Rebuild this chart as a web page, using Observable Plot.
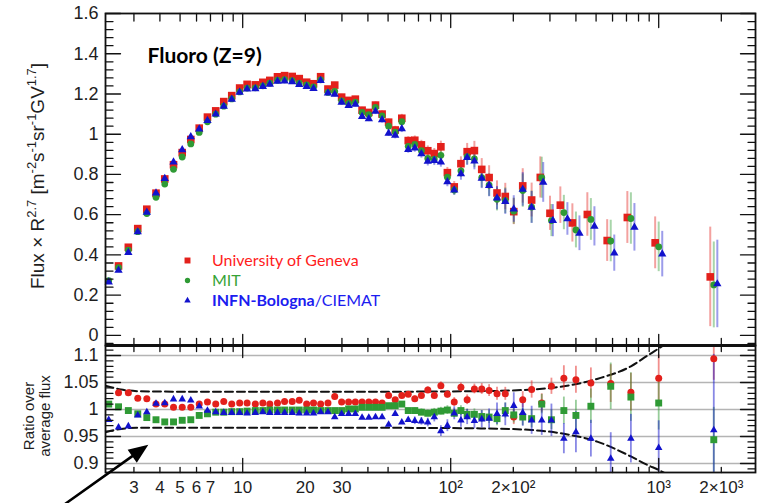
<!DOCTYPE html>
<html>
<head>
<meta charset="utf-8">
<script src="https://cdn.jsdelivr.net/npm/d3@7"></script>
<script src="https://cdn.jsdelivr.net/npm/@observablehq/plot@0.6"></script>
<style>
  html, body { margin: 0; padding: 0; background: #fff; }
  #figure { position: relative; width: 759px; height: 503px; overflow: hidden; background: #fff; }
  #figure svg { position: absolute; left: 0; }
  .ytitle { position: absolute; white-space: nowrap; transform: translate(-50%, -50%) rotate(-90deg);
            font-family: "Liberation Sans", Arial, sans-serif; color: #1e1e1e; }
  .ytitle sup { font-size: 0.68em; vertical-align: 0.6em; line-height: 0; }
  #legend { position: absolute; left: 212px; top: 250px; font-family: Lato, sans-serif; font-size: 16px; line-height: 20px; white-space: nowrap; }
</style>
</head>
<body>
<div id="figure"></div>
<script>
// Rigidity bin centres (GV)
const rigidity = [2.27, 2.53, 2.82, 3.13, 3.46, 3.83, 4.22, 4.65, 5.12, 5.63,
  6.18, 6.77, 7.42, 8.11, 8.86, 9.67, 10.5, 11.5, 12.5, 13.5,
  14.7, 15.9, 17.3, 18.7, 20.3, 21.9, 23.7, 25.7, 27.7, 29.9,
  32.3, 34.8, 37.5, 40.4, 43.5, 46.8, 50.3, 54.1, 58.2, 62.5,
  67.2, 72.3, 77.6, 83.4, 89.7, 96.4, 104, 112, 120, 130,
  141, 153, 167, 183, 201, 222, 245, 274, 305, 350,
  400, 472, 588, 735, 1000, 1840];

// Average fluorine flux x R^2.7 of the three analyses
const avgFlux = [0.27, 0.335, 0.425, 0.52, 0.615, 0.70, 0.77, 0.845, 0.905, 0.97,
  1.02, 1.07, 1.105, 1.145, 1.18, 1.215, 1.233, 1.233, 1.243, 1.255,
  1.27, 1.272, 1.268, 1.255, 1.246, 1.236, 1.273, 1.21, 1.215, 1.168,
  1.152, 1.158, 1.104, 1.093, 1.129, 1.087, 1.033, 1.003, 1.052, 0.942,
  0.951, 0.923, 0.886, 0.881, 0.898, 0.787, 0.728, 0.82, 0.897, 0.885,
  0.795, 0.758, 0.688, 0.671, 0.624, 0.73, 0.649, 0.776, 0.582, 0.612,
  0.53, 0.573, 0.45, 0.568, 0.435, 0.266];

// Ratio of each analysis to the average flux
const ratioGeneva = [null, 1.031, 1.031, 1.021, 1.020, 1.010, 1.010, 1.004, 1.004, 1.004,
  1.010, 1.014, 1.010, 1.015, 1.010, 1.012, 1.012, 1.010, 1.012, 1.010,
  1.012, 1.015, 1.015, 1.017, 1.010, 1.012, 1.010, 1.012, 1.024, 1.014,
  1.014, 1.014, 1.014, 1.014, 1.014, 1.012, 1.026, 1.018, 1.026, 1.028,
  1.020, 1.026, 1.036, 1.026, 1.044, 1.028, 1.014, 1.041, 1.018, 1.038,
  1.038, 1.035, 1.029, 1.029, 0.986, 1.018, 1.037, 1.012, 1.043, 1.058,
  1.055, 1.049, 1.048, 1.032, 1.058, 1.094];
const ratioMIT = [1.010, 1.005, 0.998, 0.992, 0.985, 0.981, 0.977, 0.977, 0.980, 0.981,
  0.989, 0.992, 0.995, 0.995, 0.996, 0.996, 0.997, 0.998, 0.998, 0.999,
  0.999, 0.999, 0.999, 0.999, 0.999, 0.999, 0.998, 0.998, 0.998, 0.998,
  1.001, 1.001, 1.004, 1.004, 1.004, 1.004, 1.007, 1.007, 1.010, 0.998,
  0.998, 0.995, 0.993, 0.995, 0.997, 0.999, 0.993, 0.998, 0.991, 0.991,
  0.987, 0.986, 0.983, 0.998, 0.990, 0.986, 0.983, 1.010, 0.981, 0.998,
  0.989, 1.006, 1.043, 1.023, 1.012, 0.944];
const ratioBologna = [0.981, 0.967, 0.969, 0.989, 0.995, 1.011, 1.012, 1.019, 1.019, 1.017,
  1.006, 0.998, 0.995, 0.994, 0.994, 0.994, 0.993, 0.994, 0.995, 0.994,
  0.994, 0.994, 0.994, 0.993, 0.993, 0.993, 0.995, 0.995, 0.986, 0.992,
  0.992, 0.992, 0.985, 0.985, 0.986, 0.986, 0.972, 0.992, 0.976, 0.981,
  0.979, 0.978, 0.976, 0.986, 0.960, 0.970, 0.993, 0.980, 0.986, 0.979,
  0.982, 0.983, 0.992, 0.991, 1.007, 0.994, 0.980, 0.980, 0.980, 0.946,
  0.958, 0.946, 0.909, 0.946, 0.929, 0.962];

// Relative total uncertainty of the flux in each bin
const fluxRelErr = [0.01, 0.01, 0.01, 0.01, 0.01, 0.01, 0.01, 0.01, 0.01, 0.01,
  0.01, 0.01, 0.01, 0.01, 0.01, 0.01, 0.01, 0.01, 0.01, 0.01,
  0.01, 0.01, 0.01, 0.01, 0.01, 0.01, 0.01, 0.011, 0.011, 0.012,
  0.012, 0.012, 0.013, 0.013, 0.014, 0.015, 0.015, 0.018, 0.018, 0.02,
  0.022, 0.024, 0.026, 0.028, 0.03, 0.032, 0.036, 0.04, 0.045, 0.05,
  0.065, 0.075, 0.085, 0.095, 0.105, 0.115, 0.125, 0.13, 0.14, 0.14,
  0.17, 0.18, 0.22, 0.22, 0.28, 0.85];

// Ratio uncertainties, given from bin 41 upwards (below that they hide under the markers)
const ratioErrStart = 40;
const ratioErrGeneva = [0.005, 0.005, 0.006, 0.006, 0.007, 0.007, 0.008, 0.008, 0.009, 0.009,
  0.010, 0.011, 0.012, 0.012, 0.014, 0.015, 0.016, 0.017, 0.015, 0.023,
  0.025, 0.028, 0.035, 0.035, 0.043, 0.040];
const ratioErrMIT = [0.005, 0.006, 0.006, 0.007, 0.007, 0.008, 0.008, 0.009, 0.010, 0.010,
  0.011, 0.012, 0.013, 0.014, 0.015, 0.016, 0.017, 0.018, 0.018, 0.025,
  0.028, 0.032, 0.043, 0.045, 0.050, 0.060];
const ratioErrBologna = [0.007, 0.007, 0.008, 0.009, 0.010, 0.011, 0.012, 0.013, 0.014, 0.015,
  0.016, 0.018, 0.020, 0.021, 0.024, 0.025, 0.026, 0.028, 0.030, 0.028,
  0.038, 0.034, 0.048, 0.045, 0.050, 0.140];

// Systematic band around the average (dashed curves)
const bandRigidity = [2.19, 2.6, 3.1, 5, 50, 140, 245, 350, 510, 735, 885, 1000, 1150, 1400];
const bandUpper = [1.044, 1.037, 1.034, 1.033, 1.033, 1.034, 1.037, 1.043, 1.057, 1.08, 1.1, 1.113, 1.13, 1.16];
const bandLower = [0.958, 0.964, 0.966, 0.966, 0.966, 0.965, 0.962, 0.955, 0.94, 0.913, 0.897, 0.888, 0.875, 0.85];

// Axis ticks and labels
const xTickMajor = [10, 100, 1000];
const xTickMinor = [3, 4, 5, 6, 7, 8, 9, 20, 30, 40, 50, 60, 70, 80, 90,
  200, 300, 400, 500, 600, 700, 800, 900, 2000];
const xLabelValues = [3, 4, 5, 6, 7, 10, 20, 30, 100, 200, 1000, 2000];
const xLabelText = ["3", "4", "5", "6", "7", "10", "20", "30", "10²", "2×10²", "10³", "2×10³"];
const fluxTicks = [0, 0.2, 0.4, 0.6, 0.8, 1, 1.2, 1.4, 1.6];
const ratioTicks = [0.9, 0.95, 1, 1.05, 1.1];

// Annotation arrow pointing at the band (rigidity, ratio)
const arrowNote = {R1: 1.41, v1: 0.826, R2: 3.41, v2: 0.931};

const series = [
  {key: "geneva", name: "University of Geneva", ratio: ratioGeneva, err: ratioErrGeneva,
   color: "#e3201b", topSymbol: "square", topR: 4.3, lowSymbol: "circle", lowR: 3.5, side: -1},
  {key: "mit", name: "MIT", ratio: ratioMIT, err: ratioErrMIT,
   color: "#2f9a35", topSymbol: "circle", topR: 3.4, lowSymbol: "square", lowR: 3.9, side: 0},
  {key: "bologna", name: "INFN-Bologna/CIEMAT", ratio: ratioBologna, err: ratioErrBologna,
   color: "#1212cc", topSymbol: "triangle", topR: 3.1, lowSymbol: "triangle", lowR: 2.8, side: 1}
];

// small horizontal spread of the three analyses at high rigidity (flux panel only)
const spread = R => R >= 350 ? 0.017 : R >= 250 ? 0.007 : 0;

const rows = [];
for (const s of series) {
  rigidity.forEach((R, i) => {
    const r = s.ratio[i];
    if (r == null) return;
    const flux = avgFlux[i] * r;
    const fe = flux * fluxRelErr[i];
    const re = i >= ratioErrStart ? s.err[i - ratioErrStart] : 0;
    rows.push({series: s.key, R, Rtop: R * Math.pow(10, s.side * spread(R)),
      flux, fluxLo: flux - fe, fluxHi: flux + fe, ratio: r, ratioLo: r - re, ratioHi: r + re});
  });
}

const ink = "#111";
const W = 759;
const xOpts = {type: "log", domain: [2.19, 2920], range: [105, 755]};
const fluxY = {domain: [-0.05, 1.6], range: [345, 13]};
const ratioY = {domain: [0.8833, 1.1185], range: [132, 5]};

const tickShape = {draw(ctx, l) { ctx.moveTo(0, 0); ctx.lineTo(0, -l); }};
const yTickMarks = (values, len, side) => Plot.vector(values, {
  y: d => d, frameAnchor: side, rotate: side === "left" ? 90 : -90, length: len,
  anchor: "start", shape: tickShape, stroke: ink, strokeWidth: 1.3});
const xTickMarks = (values, len, side) => Plot.vector(values, {
  x: d => d, frameAnchor: side, rotate: side === "top" ? 180 : 0, length: len,
  anchor: "start", shape: tickShape, stroke: ink, strokeWidth: 1.3});

const fluxMinor = d3.range(-1, 41).filter(i => i % 5 !== 0).map(i => i * 0.04);
const ratioMinor = d3.range(89, 112).filter(i => i % 5 !== 0).map(i => i / 100);
const fmt = d => String(+d.toFixed(2));

const seriesMarks = (panel) => {
  const marks = [];
  for (const s of series) {
    const data = rows.filter(d => d.series === s.key);
    if (panel === "flux") {
      marks.push(Plot.ruleX(data, {x: "Rtop", y1: "fluxLo", y2: "fluxHi", stroke: s.color, strokeOpacity: 0.42, strokeWidth: 2}));
    } else {
      marks.push(Plot.ruleX(data, {x: "R", y1: "ratioLo", y2: "ratioHi", stroke: s.color, strokeOpacity: 0.5, strokeWidth: 1.8, clip: true}));
    }
  }
  for (const s of series) {
    const data = rows.filter(d => d.series === s.key);
    if (panel === "flux") {
      marks.push(Plot.dot(data, {x: "Rtop", y: "flux", symbol: s.topSymbol, r: s.topR, fill: s.color}));
    } else {
      marks.push(Plot.dot(data, {x: "R", y: "ratio", symbol: s.lowSymbol, r: s.lowR, fill: s.color, clip: true}));
    }
  }
  return marks;
};

const baseStyle = {fontFamily: "'Liberation Sans', Arial, sans-serif", fontSize: "18px", color: "#1e1e1e", background: "transparent", overflow: "visible"};

// Flux panel
const fluxChart = Plot.plot({
  width: W, height: 350, marginLeft: 105, marginRight: 4, marginTop: 13, marginBottom: 5,
  x: {...xOpts, axis: null},
  y: {...fluxY, axis: null},
  style: baseStyle,
  marks: [
    ...seriesMarks("flux"),
    yTickMarks(fluxTicks, 15, "left"), yTickMarks(fluxMinor, 7.5, "left"),
    yTickMarks(fluxTicks, 15, "right"), yTickMarks(fluxMinor, 7.5, "right"),
    xTickMarks(xTickMajor, 14, "top"), xTickMarks(xTickMinor, 7.5, "top"),
    xTickMarks(xTickMajor, 11, "bottom"), xTickMarks(xTickMinor, 7, "bottom"),
    Plot.frame({stroke: ink, strokeWidth: 1.8}),
    Plot.text(fluxTicks, {y: d => d, frameAnchor: "left", text: fmt, textAnchor: "end", dx: -7, fontSize: 18}),
    Plot.text(["Fluoro (Z=9)"], {frameAnchor: "top-left", dx: 42, dy: 35, text: d => d, textAnchor: "start",
      fontFamily: "Lato, sans-serif", fontWeight: "bold", fontSize: 21, fill: "#000"}),
    // legend markers
    ...series.map((s, i) => Plot.dot([s], {frameAnchor: "top-left", dx: 82, dy: 247 + i * 20,
      symbol: s.topSymbol, r: s.topR * 0.78, fill: s.color}))
  ]
});

// Ratio panel; the annotation arrow is laid out with the same scales
const sx = Plot.scale({x: xOpts});
const sy = Plot.scale({y: ratioY});
const ax1 = sx.apply(arrowNote.R1), ay1 = sy.apply(arrowNote.v1);
const ax2 = sx.apply(arrowNote.R2), ay2 = sy.apply(arrowNote.v2);
const arrowLength = Math.hypot(ax2 - ax1, ay2 - ay1);
const arrowAngle = Math.atan2(ax2 - ax1, -(ay2 - ay1)) * 180 / Math.PI;
const arrowShape = {draw(ctx, l) {
  const h = 15, w = 6;
  ctx.moveTo(0, 0); ctx.lineTo(0, -(l - h + 1));
  ctx.moveTo(0, -l); ctx.lineTo(-w, -l + h); ctx.lineTo(w, -l + h); ctx.closePath();
}};

const ratioChart = Plot.plot({
  width: W, height: 163, marginLeft: 105, marginRight: 4, marginTop: 5, marginBottom: 31,
  x: {...xOpts, axis: null},
  y: {...ratioY, axis: null},
  style: baseStyle,
  marks: [
    Plot.ruleY(ratioTicks, {stroke: "#b4b4b4", strokeWidth: 1.4}),
    Plot.line(bandRigidity.map((R, i) => ({R, v: bandUpper[i]})), {x: "R", y: "v", curve: "monotone-x",
      stroke: "#111", strokeWidth: 2, strokeDasharray: "8,4", clip: true}),
    Plot.line(bandRigidity.map((R, i) => ({R, v: bandLower[i]})), {x: "R", y: "v", curve: "monotone-x",
      stroke: "#111", strokeWidth: 2, strokeDasharray: "8,4", clip: true}),
    ...seriesMarks("ratio"),
    yTickMarks(ratioTicks, 15, "left"), yTickMarks(ratioMinor, 7.5, "left"),
    yTickMarks(ratioTicks, 15, "right"), yTickMarks(ratioMinor, 7.5, "right"),
    xTickMarks(xTickMajor, 12, "top"), xTickMarks(xTickMinor, 6, "top"),
    xTickMarks(xTickMajor, 14, "bottom"), xTickMarks(xTickMinor, 5, "bottom"),
    Plot.frame({stroke: ink, strokeWidth: 1.8}),
    Plot.ruleY([ratioY.domain[1]], {stroke: ink, strokeWidth: 3}),
    Plot.text(ratioTicks, {y: d => d, frameAnchor: "left", text: fmt, textAnchor: "end", dx: -7, fontSize: 18}),
    Plot.text(xLabelValues, {x: d => d, frameAnchor: "bottom", text: (d, i) => xLabelText[i], dy: 20, fontSize: 17}),
    Plot.vector([arrowNote], {x: "R1", y: "v1", length: arrowLength, rotate: arrowAngle, anchor: "start",
      shape: arrowShape, stroke: "#000", fill: "#000", strokeWidth: 2.6, strokeLinejoin: "miter"})
  ]
});

const fig = document.getElementById("figure");
fluxChart.style.top = "0px";
ratioChart.style.top = "340px";
fig.appendChild(fluxChart);
fig.appendChild(ratioChart);

// axis titles and legend text
const fluxTitle = document.createElement("div");
fluxTitle.className = "ytitle";
fluxTitle.style.cssText = "left:38px; top:176px; font-size:19px;";
fluxTitle.innerHTML = "Flux × R<sup>2.7</sup> [m<sup>-2</sup>s<sup>-1</sup>sr<sup>-1</sup>GV<sup>1.7</sup>]";
fig.appendChild(fluxTitle);

const ratioTitle = document.createElement("div");
ratioTitle.className = "ytitle";
ratioTitle.style.cssText = "left:37px; top:416px; font-size:15px; line-height:16px; text-align:center;";
ratioTitle.innerHTML = "Ratio over<br>average flux";
fig.appendChild(ratioTitle);

const legend = document.createElement("div");
legend.id = "legend";
legend.innerHTML =
  `<div style="color:#ff1c1c">${series[0].name}</div>` +
  `<div style="color:#36a336">${series[1].name}</div>` +
  `<div style="color:#1c1cf0"><b>INFN-Bologna</b>/CIEMAT</div>`;
fig.appendChild(legend);
</script>
</body>
</html>
